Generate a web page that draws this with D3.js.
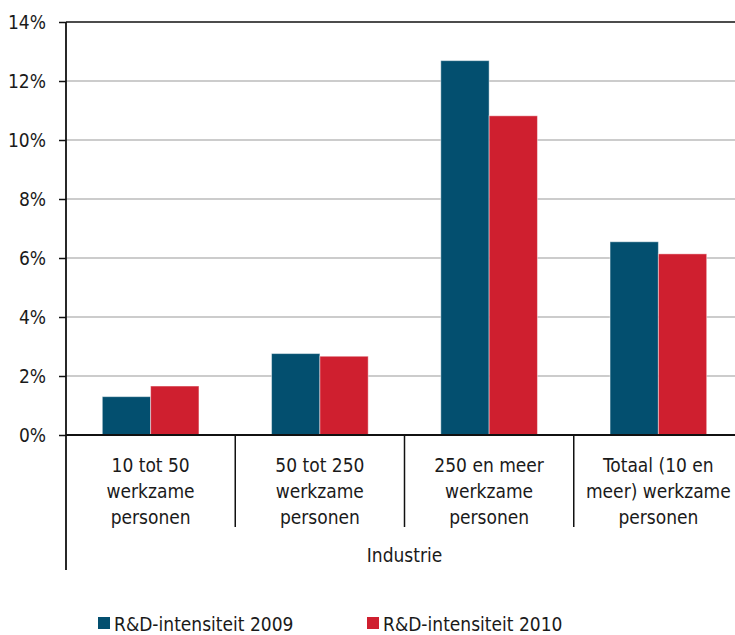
<!DOCTYPE html>
<html><head><meta charset="utf-8">
<script src="https://cdn.jsdelivr.net/npm/d3@7"></script>
<style>
body{margin:0;background:#fff;}
text{font-family:"Liberation Sans Narrow","DejaVu Sans Condensed","Liberation Sans",Arial,sans-serif;fill:#1a1a1a;}
</style></head>
<body><svg id="c" width="735" height="635"></svg>
<script>
const categories = [
  ["10 tot 50","werkzame","personen"],
  ["50 tot 250","werkzame","personen"],
  ["250 en meer","werkzame","personen"],
  ["Totaal (10 en","meer) werkzame","personen"]
];
const groupLabel = "Industrie";
const seriesNames = ["R&D-intensiteit 2009","R&D-intensiteit 2010"];
const values2009 = [1.30, 2.76, 12.69, 6.55];
const values2010 = [1.66, 2.67, 10.82, 6.14];
const yTicks = [0,2,4,6,8,10,12,14];
const colors = ["#034f6f","#cf1f2f"];

(function(){
const svg = d3.select("#c");
const mLeft = 66, mRight = 743, mTop = 22, mBottom = 435;
const catKeys = categories.map((c,i)=>i);
const x0 = d3.scaleBand().domain(catKeys).range([mLeft,mRight]).padding(0);
const bw = x0.bandwidth();
const x1 = d3.scaleBand().domain(seriesNames).range([bw*0.2145, bw*0.7855]).padding(0);
const y = d3.scaleLinear().domain([0,14]).range([mBottom,mTop]);

// gridlines
svg.append("g").selectAll("line").data(yTicks.filter(t=>t>0)).join("line")
  .attr("x1",mLeft).attr("x2",735).attr("y1",d=>y(d)).attr("y2",d=>y(d))
  .attr("stroke",d=>d===14?"#111":"#9a9a9a").attr("stroke-width",d=>d===14?1.5:1.2);

// bars
const series = [values2009, values2010];
series.forEach((vals,si)=>{
  svg.append("g").selectAll("rect").data(vals).join("rect")
    .attr("x",(d,i)=>x0(i)+x1(seriesNames[si]))
    .attr("width",x1.bandwidth())
    .attr("y",d=>y(d))
    .attr("height",d=>y(0)-y(d))
    .attr("fill",colors[si])
    .attr("stroke","rgba(255,255,255,0.45)").attr("stroke-width",1);
});

// y axis
const yAxis = d3.axisLeft(y).tickValues(yTicks).tickFormat(d=>d+"%").tickSize(7).tickPadding(13);
const gy = svg.append("g").attr("transform",`translate(${mLeft},0)`).call(yAxis);
gy.attr("font-family",null).attr("font-size",null);
gy.select(".domain").remove();
gy.selectAll(".tick line").attr("stroke","#111").attr("stroke-width",1.5);
gy.selectAll(".tick text").attr("font-size",19).attr("fill","#1a1a1a");

// axis lines
svg.append("line").attr("x1",mLeft).attr("x2",mLeft).attr("y1",mTop).attr("y2",570).attr("stroke","#111").attr("stroke-width",1.8);
svg.append("line").attr("x1",mLeft).attr("x2",735).attr("y1",mBottom).attr("y2",mBottom).attr("stroke","#111").attr("stroke-width",1.8);

// category separators
svg.append("g").selectAll("line").data(catKeys.slice(1)).join("line")
  .attr("x1",d=>x0(d)).attr("x2",d=>x0(d)).attr("y1",mBottom).attr("y2",527)
  .attr("stroke","#111").attr("stroke-width",1.5);

// category labels
const cl = svg.append("g").selectAll("text").data(categories).join("text")
  .attr("text-anchor","middle").attr("font-size",19);
cl.each(function(lines,i){
  const t = d3.select(this);
  lines.forEach((ln,j)=>{
    t.append("tspan").attr("x",x0(i)+bw/2).attr("y",472+j*26).text(ln);
  });
});
svg.append("text").attr("x",(mLeft+mRight)/2).attr("y",562).attr("text-anchor","middle").attr("font-size",19).text(groupLabel);

// legend
const legX = [98, 367];
seriesNames.forEach((s,i)=>{
  svg.append("rect").attr("x",legX[i]).attr("y",617).attr("width",12).attr("height",12).attr("fill",colors[i]);
  svg.append("text").attr("x",legX[i]+16).attr("y",631).attr("font-size",19).text(s);
});
})();
</script></body></html>
